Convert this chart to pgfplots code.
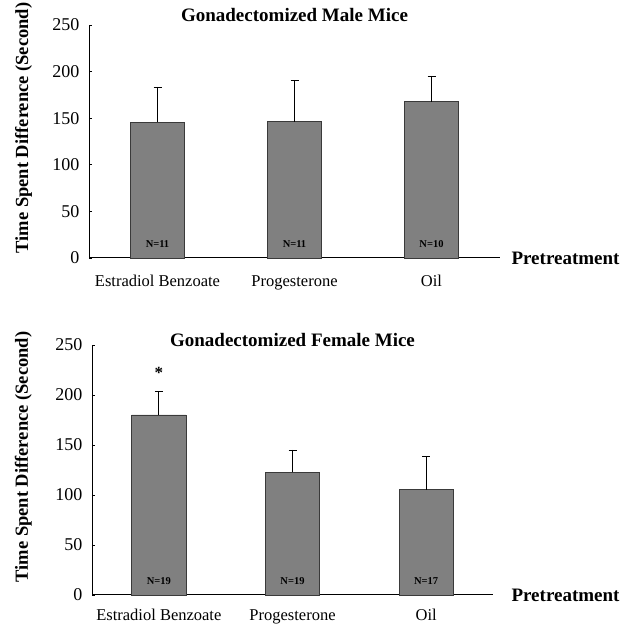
\documentclass[border=0pt]{standalone}
\usepackage{pgfplots}
\pgfplotsset{compat=1.18}
\usepackage{fontspec}
\setmainfont{Liberation Serif}
\definecolor{barfill}{HTML}{808080}
\definecolor{bardraw}{HTML}{3A3A3A}
\begin{document}
\begin{tikzpicture}[x=1pt,y=1pt]
\useasboundingbox (0,0) rectangle (627,628);
\pgfplotsset{
  every axis title shift=0pt,
  myaxis/.style={
    scale only axis,
    anchor=south west,
    ymin=0, ymax=250, ytick={0,50,...,250},
    xmin=-0.5, xmax=2.5, xtick={0,1,2},
    xticklabels={Estradiol Benzoate, Progesterone, Oil},
    axis x line*=bottom, axis y line*=left,
    axis line style={black, line width=1pt},
    tick align=inside, major tick length=3pt,
    xtick style={draw=none},
    ytick style={black, line width=0.8pt},
    /pgf/number format/assume math mode=true,
    yticklabel style={font=\fontsize{18}{20}\selectfont, xshift=-6pt},
    xticklabel style={font=\fontsize{16.5}{19}\selectfont},
    title style={font=\bfseries\fontsize{19}{22}\selectfont, at={(axis description cs:0.5,1)}, anchor=base},
    ylabel={Time Spent Difference (Second)},
    ylabel style={font=\bfseries\fontsize{18.5}{22}\selectfont, anchor=center},
    xlabel={Pretreatment},
    xlabel style={font=\bfseries\fontsize{19}{22}\selectfont, at={(axis description cs:1,0)}, anchor=west},
    ybar,
    clip=false,
  },
  mybar/.style={
    fill=barfill, draw=bardraw, line width=0.9pt,
    error bars/.cd, y dir=plus, y explicit,
    error bar style={black, line width=0.8pt},
    error mark options={black, rotate=90, mark size=4pt, line width=0.8pt},
  },
}
% Top panel
\begin{axis}[myaxis,
  at={(89pt,370pt)}, width=411pt, height=233pt,
  bar width=0.40,
  title={Gonadectomized Male Mice},
  title style={yshift=3pt},
  ylabel style={at={(axis description cs:-0.159,0.558)}},
  xlabel style={xshift=8pt},
  xticklabel style={yshift=-11pt},
]
\addplot[mybar] coordinates {(0,145.9) +- (0,37.6) (1,146.0) +- (0,44.2) (2,167.7) +- (0,27.6)};
\node[font=\bfseries\fontsize{10.5}{12}\selectfont] at (axis cs:0,15) {N=11};
\node[font=\bfseries\fontsize{10.5}{12}\selectfont] at (axis cs:1,15) {N=11};
\node[font=\bfseries\fontsize{10.5}{12}\selectfont] at (axis cs:2,15) {N=10};
\end{axis}
% Bottom panel
\begin{axis}[myaxis,
  at={(92pt,33pt)}, width=401pt, height=250pt,
  bar width=0.406,
  title={Gonadectomized Female Mice},
  title style={yshift=-2pt},
  ylabel style={at={(axis description cs:-0.171,0.552)}},
  xlabel style={xshift=15pt},
  xticklabel style={yshift=-8pt},
]
\addplot[mybar] coordinates {(0,180.0) +- (0,23.7) (1,122.7) +- (0,22.3) (2,105.3) +- (0,33.0)};
\node[font=\bfseries\fontsize{10.5}{12}\selectfont] at (axis cs:0,14) {N=19};
\node[font=\bfseries\fontsize{10.5}{12}\selectfont] at (axis cs:1,14) {N=19};
\node[font=\bfseries\fontsize{10.5}{12}\selectfont] at (axis cs:2,14) {N=17};
\node[font=\bfseries\fontsize{17}{17}\selectfont] at (axis cs:0,222) {*};
\end{axis}
\end{tikzpicture}
\end{document}
